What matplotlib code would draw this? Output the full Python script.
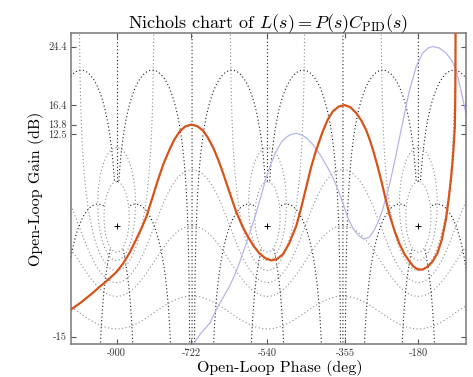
import numpy as np
import matplotlib
matplotlib.use("Agg")
from matplotlib import pyplot as plt

plt.rcParams['font.family'] = 'cmr10'
plt.rcParams['mathtext.fontset'] = 'cm'
plt.rcParams['axes.unicode_minus'] = False
plt.rcParams['axes.formatter.use_mathtext'] = True

# open-loop curves (phase in deg, gain in dB)
pid_phase = [-1011, -985, -960, -940, -920, -900, -885, -870, -855, -840, -829, -815,
             -803, -788, -773, -762, -749, -736, -722, -708, -694, -682, -669, -656,
             -646, -630, -615, -600, -587, -573, -559, -545, -531, -517, -503, -488,
             -471, -460, -448, -436, -424, -408, -396, -384, -370, -356, -342, -328,
             -316, -305, -297, -289, -279, -269, -259, -249, -237, -225, -213, -201,
             -192, -182, -170, -158, -146, -134, -124, -114, -107, -102, -98, -95,
             -93, -92, -91.5, -91.2]
pid_gain = [-11.4, -10.35, -9.2, -8.2, -7.25, -6.2, -5.1, -3.7, -2.0, -0.2, 1.3, 3.8,
            6.0, 8.5, 10.5, 11.8, 12.9, 13.55, 13.8, 13.6, 13.0, 12.0, 10.6, 8.8,
            7.2, 4.5, 2.0, 0.0, -1.4, -2.7, -3.7, -4.35, -4.65, -4.45, -3.8, -2.3,
            0.1, 2.4, 5.2, 8.0, 10.3, 12.9, 14.5, 15.6, 16.25, 16.45, 16.15, 15.35,
            14.35, 13.1, 11.9, 10.5, 8.5, 6.3, 3.9, 1.6, -0.6, -2.4, -3.8, -4.8,
            -5.45, -5.85, -5.9, -5.5, -4.8, -3.6, -1.8, 1.0, 4.0, 6.5, 9.0, 11.5,
            13.5, 17.0, 21.0, 26.5]

p_phase = [-720, -700, -678, -662, -645, -631, -618, -607, -591, -579, -567, -555,
           -543, -531, -519, -507, -495, -483, -470, -458, -445, -432, -420, -408,
           -396, -384, -372, -360, -348, -336, -324, -310, -297, -286, -275, -265,
           -255, -245, -235, -225, -213, -201, -185, -170, -157, -146, -130, -114,
           -100, -90, -82, -74, -66]
p_gain = [-16.3, -14.6, -13.2, -11.3, -9.6, -8.2, -6.6, -5.0, -2.4, -0.3, 1.8, 4.2,
          6.6, 8.6, 10.2, 11.4, 12.1, 12.5, 12.6, 12.4, 11.9, 11.1, 10.2, 9.1,
          7.9, 6.6, 5.0, 3.1, 1.1, -0.3, -1.2, -1.75, -1.5, -0.6, 0.7, 2.3,
          4.3, 6.6, 9.2, 12.0, 15.3, 18.5, 21.7, 23.5, 24.2, 24.4, 24.2, 23.5,
          22.5, 21.2, 19.3, 17.3, 15.2]

crit_phase = [-900, -540, -180]

# Nichols grid: closed-loop magnitudes (dB) and closed-loop phases (deg)
cl_mags = [6, 3, 0, -3, -6, -12, -20]
cl_phases = [0, -5, -45, -135, -225, -315, -355]

xticks = [-900, -722, -540, -355, -180]
yticks = [-15, 12.5, 13.8, 16.4, 24.4]


def m_contour(mdb):
    m = 10 ** (mdb / 20.0)
    th = np.linspace(1e-4, 2 * np.pi - 1e-4, 4000)
    T = m * np.exp(1j * th)
    G = T / (1 - T)
    if m < 1:
        ph = np.degrees(np.unwrap(np.angle(G)))
    else:
        ph = np.mod(np.degrees(np.angle(G)), 360) - 360
    return ph, 20 * np.log10(np.abs(G))


def n_contour(pdeg):
    r = np.logspace(-2, np.log10(2), 4000)
    T = r * np.exp(1j * np.radians(pdeg))
    G = T / (1 - T)
    ph = np.mod(np.degrees(np.angle(G)), 360) - 360
    g = 20 * np.log10(np.abs(G))
    if pdeg == 0:
        ph = np.where(r > 1, -180.0, -360.0)
        i = np.searchsorted(r, 1.0)
        ph = np.insert(ph, i, np.nan)
        g = np.insert(g, i, np.nan)
    return ph, g


fig = plt.figure(figsize=(4.73, 3.77), dpi=100)
ax = fig.add_axes([0.150, 0.0875, 0.8346, 0.8242])

dots = (0, (1, 2.2))
for mdb in cl_mags:
    ph, g = m_contour(mdb)
    for k in range(-1, 4):
        ax.plot(ph - 360 * k, g, color='#8c8c8c', lw=0.8, ls=dots, zorder=1)
for pdeg in cl_phases:
    ph, g = n_contour(pdeg)
    for k in range(-1, 4):
        ax.plot(ph - 360 * k, g, color='#1a1a1a', lw=0.8, ls=dots, zorder=1)

ax.plot(p_phase, p_gain, color='#b4b4ec', lw=0.9, zorder=2)
ax.plot(pid_phase, pid_gain, color='#d95319', lw=1.6, zorder=3)
ax.plot(crit_phase, [0, 0, 0], '+', color='k', ms=4.5, mew=0.7, zorder=4)

ax.set_xlim(-1009, -67)
ax.set_ylim(-16.0, 26.2)
ax.set_xticks(xticks)
ax.set_xticklabels([str(v) for v in xticks])
ax.set_yticks(yticks)
ax.set_yticklabels([str(v) for v in yticks])
ax.tick_params(direction='in', top=True, right=True, length=3.5, width=0.8,
               colors='#555555', labelcolor='#333333', labelsize=7.5, pad=3)
for s in ax.spines.values():
    s.set_color('#777777')
    s.set_linewidth(1.1)

ax.set_title(r'Nichols chart of $L(s) = P(s)C_{\mathrm{PID}}(s)$', fontsize=13, pad=4)
ax.set_xlabel('Open-Loop Phase (deg)', fontsize=11.5)
ax.xaxis.set_label_coords(0.53, -0.05)
ax.set_ylabel('Open-Loop Gain (dB)', fontsize=11.5, labelpad=3)

plt.savefig("out.png", dpi=100)
